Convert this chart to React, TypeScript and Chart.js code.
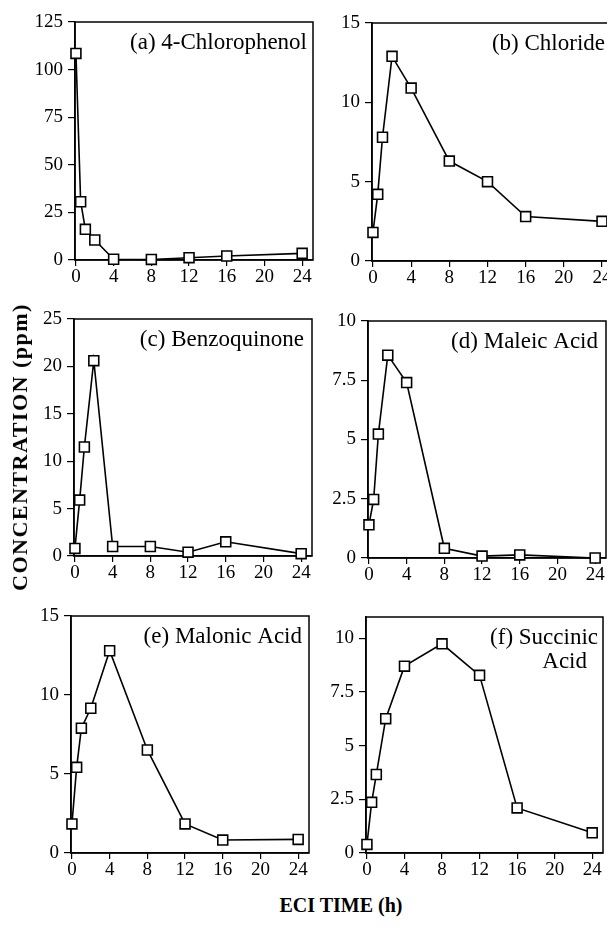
import React, { useEffect, useRef } from "react";
import { Chart, registerables } from "chart.js";
Chart.register(...registerables);

// ---- data ----
const times = [0, 0.5, 1, 2, 4, 8, 12, 16, 24];
const xTicks = [0, 4, 8, 12, 16, 20, 24];

const chlorophenol = [108.5, 30.6, 16.1, 10.5, 0.4, 0.3, 1.2, 2.1, 3.5];
const chloride = [1.8, 4.2, 7.8, 12.9, 10.9, 6.3, 5.0, 2.8, 2.5];
const benzoquinone = [0.8, 5.9, 11.5, 20.6, 1.0, 1.0, 0.4, 1.5, 0.25];
const maleicAcid = [1.4, 2.47, 5.23, 8.56, 7.4, 0.41, 0.08, 0.13, 0.0];
const malonicAcid = [1.84, 5.42, 7.9, 9.16, 12.8, 6.52, 1.84, 0.82, 0.86];
const succinicAcid = [0.4, 2.36, 3.66, 6.26, 8.71, 9.75, 8.28, 2.1, 0.94];

const yTicksA = [0, 25, 50, 75, 100, 125];
const yTicksB = [0, 5, 10, 15];
const yTicksC = [0, 5, 10, 15, 20, 25];
const yTicksD = [0, 2.5, 5, 7.5, 10];
const yTicksE = [0, 5, 10, 15];
const yTicksF = [0, 2.5, 5, 7.5, 10];

const labelA = ["(a) 4-Chlorophenol"];
const labelB = ["(b) Chloride"];
const labelC = ["(c) Benzoquinone"];
const labelD = ["(d) Maleic Acid"];
const labelE = ["(e) Malonic Acid"];
const labelF = ["(f) Succinic", "Acid"];

const xTitle = "ECI TIME (h)";
const yTitle = "CONCENTRATION (ppm)";

// ---- layout / style ----
const WY = 60; // y-axis box width
const HX = 34; // x-axis box height
const PT = 20; // top padding
const PR = 20; // right padding
const FONT = '"Liberation Serif", "Times New Roman", serif';

type Panel = {
  values: number[];
  yMax: number;
  yTicks: number[];
  label: string[];
  labelDx: number[];
  rect: { x: number; y: number; w: number; h: number };
};

const panels: Panel[] = [
  { values: chlorophenol, yMax: 125, yTicks: yTicksA, label: labelA, labelDx: [6], rect: { x: 75, y: 22, w: 238, h: 238 } },
  { values: chloride, yMax: 15, yTicks: yTicksB, label: labelB, labelDx: [8], rect: { x: 372, y: 23, w: 241, h: 238 } },
  { values: benzoquinone, yMax: 25, yTicks: yTicksC, label: labelC, labelDx: [8], rect: { x: 74, y: 319, w: 238, h: 237 } },
  { values: maleicAcid, yMax: 10, yTicks: yTicksD, label: labelD, labelDx: [8], rect: { x: 368, y: 321, w: 238, h: 237 } },
  { values: malonicAcid, yMax: 15, yTicks: yTicksE, label: labelE, labelDx: [7], rect: { x: 71, y: 616, w: 238, h: 237 } },
  { values: succinicAcid, yMax: 11, yTicks: yTicksF, label: labelF, labelDx: [5, 16], rect: { x: 366, y: 617, w: 237, h: 236 } },
];

const X_MIN = -0.1;
const X_MAX = 25.15;

const framePlugin = {
  id: "frameLabel",
  beforeDatasetsDraw(chart: any) {
    const { ctx, chartArea: a } = chart;
    ctx.save();
    ctx.strokeStyle = "#000";
    ctx.lineWidth = 1.5;
    ctx.strokeRect(a.left, a.top, a.right - a.left, a.bottom - a.top);
    ctx.restore();
  },
  afterDraw(chart: any, _args: any, opts: any) {
    const { ctx, chartArea: a } = chart;
    ctx.save();
    ctx.fillStyle = "#000";
    ctx.font = `23px ${FONT}`;
    ctx.textAlign = "right";
    ctx.textBaseline = "middle";
    (opts.lines || []).forEach((t: string, i: number) => {
      ctx.fillText(t, a.right - (opts.dx[i] ?? 6), a.top + 21 + i * 24);
    });
    ctx.restore();
  },
};

function PanelChart({ p }: { p: Panel }) {
  const ref = useRef<HTMLCanvasElement>(null);
  const cw = WY + p.rect.w + PR;
  const ch = PT + p.rect.h + HX;
  useEffect(() => {
    if (!ref.current) return;
    const chart = new Chart(ref.current, {
      type: "line",
      data: {
        datasets: [
          {
            data: times.map((t, i) => ({ x: t, y: p.values[i] })),
            borderColor: "#000",
            borderWidth: 1.6,
            pointStyle: "rect",
            pointRadius: 7,
            pointBorderWidth: 1.6,
            pointBackgroundColor: "#fff",
            pointBorderColor: "#000",
            tension: 0,
            clip: false as any,
          },
        ],
      },
      options: {
        animation: false,
        responsive: false,
        events: [],
        layout: { padding: { top: PT, right: PR, left: 0, bottom: 0 } },
        plugins: {
          legend: { display: false },
          tooltip: { enabled: false },
          frameLabel: { lines: p.label, dx: p.labelDx },
        } as any,
        scales: {
          x: {
            type: "linear",
            min: X_MIN,
            max: X_MAX,
            afterBuildTicks: (s: any) => {
              s.ticks = xTicks.map((v) => ({ value: v }));
            },
            afterFit: (s: any) => {
              s.height = HX;
            },
            ticks: {
              color: "#000",
              font: { family: FONT, size: 19 },
              padding: 0,
              maxRotation: 0,
              autoSkip: false,
              callback: (v: any) => String(v),
            },
            grid: { drawOnChartArea: false, drawTicks: true, tickLength: 6, color: "#000", lineWidth: 1.2 },
            border: { display: true, color: "#000", width: 1.6 },
          },
          y: {
            type: "linear",
            min: 0,
            max: p.yMax,
            afterBuildTicks: (s: any) => {
              s.ticks = p.yTicks.map((v) => ({ value: v }));
            },
            afterFit: (s: any) => {
              s.width = WY;
            },
            ticks: {
              color: "#000",
              font: { family: FONT, size: 19 },
              padding: 5,
              autoSkip: false,
              callback: (v: any) => String(v),
            },
            grid: { drawOnChartArea: false, drawTicks: true, tickLength: 7, color: "#000", lineWidth: 1.2 },
            border: { display: true, color: "#000", width: 1.6 },
          },
        },
      },
      plugins: [framePlugin as any],
    });
    return () => chart.destroy();
  }, [p]);
  return (
    <canvas
      ref={ref}
      width={cw}
      height={ch}
      style={{ position: "absolute", left: p.rect.x - WY, top: p.rect.y - PT, width: cw, height: ch }}
    />
  );
}

export default function App() {
  return (
    <div
      style={{
        position: "absolute",
        left: 0,
        top: 0,
        width: 607,
        height: 928,
        overflow: "hidden",
        background: "#fff",
      }}
    >
      {panels.map((p, i) => (
        <PanelChart key={i} p={p} />
      ))}
      <div
        style={{
          position: "absolute",
          left: 341,
          top: 905,
          transform: "translate(-50%, -50%)",
          fontFamily: FONT,
          fontWeight: "bold",
          fontSize: 20,
          whiteSpace: "nowrap",
          color: "#000",
        }}
      >
        {xTitle}
      </div>
      <div
        style={{
          position: "absolute",
          left: 20,
          top: 447,
          transform: "translate(-50%, -50%) rotate(-90deg)",
          fontFamily: FONT,
          fontWeight: "bold",
          fontSize: 22,
          letterSpacing: 1.5,
          whiteSpace: "nowrap",
          color: "#000",
        }}
      >
        {yTitle}
      </div>
    </div>
  );
}
